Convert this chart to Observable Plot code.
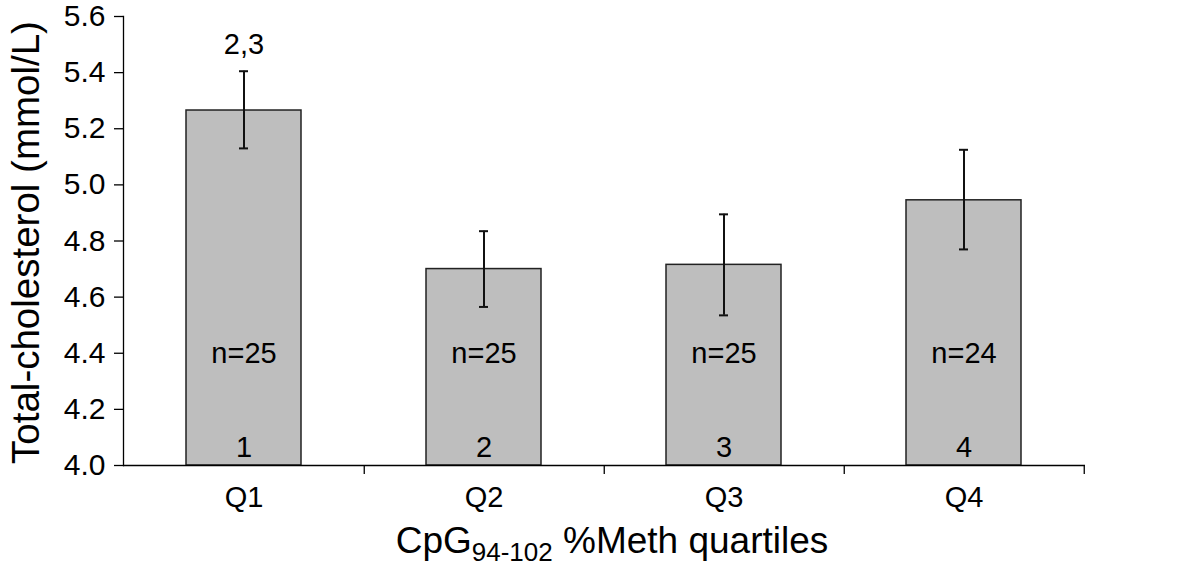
<!DOCTYPE html>
<html><head><meta charset="utf-8">
<script src="https://cdn.jsdelivr.net/npm/d3@7"></script>
<script src="https://cdn.jsdelivr.net/npm/@observablehq/plot@0.6"></script>
<style>
html,body{margin:0;padding:0;background:#fff;}
#chart svg{font-family:"Liberation Sans",Arial,Helvetica,sans-serif;display:block;}
</style>
</head><body><div id="chart"></div>
<script>
// ---- data ----
const quartiles = ["Q1", "Q2", "Q3", "Q4"];
const means = [5.265, 4.70, 4.715, 4.945];
const errLow = [5.13, 4.565, 4.535, 4.77];
const errHigh = [5.405, 4.835, 4.895, 5.125];
const nLabels = ["n=25", "n=25", "n=25", "n=24"];
const groupNumbers = ["1", "2", "3", "4"];
const sigLabels = ["2,3", "", "", ""];
const yTicks = [4.0, 4.2, 4.4, 4.6, 4.8, 5.0, 5.2, 5.4, 5.6];
const baseline = 4.0;
const nLabelLevel = 4.4;
const yTitle = "Total-cholesterol (mmol/L)";

const data = quartiles.map((q, i) => ({
  q, mean: means[i], lo: errLow[i], hi: errHigh[i],
  n: nLabels[i], g: groupNumbers[i], sig: sigLabels[i]
}));

const W = 1200, H = 566, mL = 123, mR = 115, mT = 16, mB = 101;
const halfStep = (W - mL - mR) / quartiles.length / 2;

const plot = Plot.plot({
  width: W, height: H,
  marginLeft: mL, marginRight: mR, marginTop: mT, marginBottom: mB,
  style: {background: "#fff", color: "#000"},
  x: {domain: quartiles, paddingInner: 0.52, paddingOuter: 0.26, label: null},
  y: {domain: [4.0, 5.6], label: null},
  marks: [
    Plot.barY(data, {x: "q", y1: baseline, y2: "mean", fill: "#bebebe", stroke: "#222", strokeWidth: 1.5}),
    Plot.ruleX(data, {x: "q", y1: "lo", y2: "hi", stroke: "#111", strokeWidth: 2}),
    Plot.tickY(data, {x: "q", y: "hi", insetLeft: 53, insetRight: 53, stroke: "#111", strokeWidth: 2}),
    Plot.tickY(data, {x: "q", y: "lo", insetLeft: 53, insetRight: 53, stroke: "#111", strokeWidth: 2}),
    Plot.text(data, {x: "q", y: () => nLabelLevel, text: "n", fontSize: 29, fill: "#000"}),
    Plot.text(data, {x: "q", y: () => baseline, text: "g", dy: -18, fontSize: 29, fill: "#000"}),
    Plot.text(data, {x: "q", y: "hi", text: "sig", dy: -27, fontSize: 29, fill: "#000"}),
    Plot.ruleY([baseline], {stroke: "#000", strokeWidth: 1.3}),
    Plot.frame({anchor: "left", stroke: "#000", strokeWidth: 1.3}),
    Plot.axisY({ticks: yTicks, tickFormat: d => d.toFixed(1), tickSize: 9, tickPadding: 9, fontSize: 30, label: null, strokeWidth: 1.3}),
    Plot.axisX({tickSize: 0, tickPadding: 21, fontSize: 29, label: null}),
    Plot.axisX({tickSize: 9, tickFormat: () => "", dx: halfStep, label: null, strokeWidth: 1.3})
  ]
});

document.getElementById("chart").appendChild(plot);

const svg = d3.select(plot);
// Y axis title
svg.append("text")
  .attr("transform", `translate(39,${(mT + (H - mB)) / 2 + 2}) rotate(-90)`)
  .attr("text-anchor", "middle")
  .attr("font-size", 38.5)
  .attr("fill", "#000")
  .text(yTitle);
// X axis title with subscript
const xt = svg.append("text")
  .attr("x", 612).attr("y", 553)
  .attr("text-anchor", "middle")
  .attr("font-size", 37)
  .attr("fill", "#000");
xt.append("tspan").text("CpG");
xt.append("tspan").attr("font-size", 26).attr("dy", 8).text("94-102");
xt.append("tspan").attr("dy", -8).text(" %Meth quartiles");
</script>
</body></html>
